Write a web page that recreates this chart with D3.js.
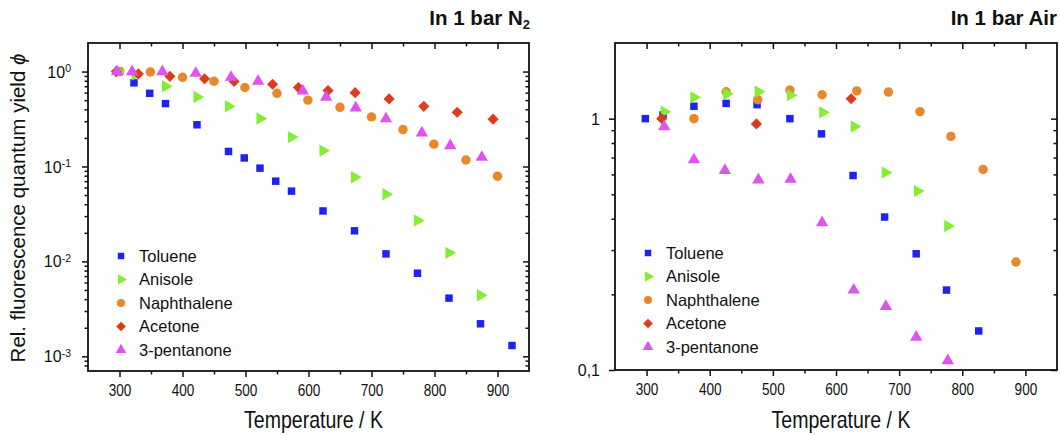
<!DOCTYPE html>
<html>
<head>
<meta charset="utf-8">
<script src="https://cdn.jsdelivr.net/npm/d3@7"></script>
<style>
  body { margin: 0; background: #fff; }
  svg text { font-family: "Liberation Sans", Arial, sans-serif; fill: #111; }
</style>
</head>
<body>
<svg id="chart" width="1060" height="435"></svg>
<script>
// ---------------------------------------------------------------------------
// Data
// ---------------------------------------------------------------------------

const compounds = ["Toluene", "Anisole", "Naphthalene", "Acetone", "3-pentanone"];
const xTicks = [300, 400, 500, 600, 700, 800, 900];
const xMinorTicks = [350, 450, 550, 650, 750, 850];

// In 1 bar N2
const n2TolueneT = [300, 323, 348, 373, 423, 473, 498, 523, 548, 573, 623, 673, 723, 773, 823, 873, 923];
const n2TolueneY = [1.0, 0.76, 0.59, 0.46, 0.275, 0.144, 0.123, 0.096, 0.07, 0.055, 0.034, 0.021, 0.012, 0.0075, 0.0041, 0.0022, 0.0013];
const n2AnisoleT = [298, 325, 373, 423, 473, 523, 573, 623, 673, 723, 773, 823, 873];
const n2AnisoleY = [1.0, 0.93, 0.70, 0.54, 0.43, 0.32, 0.204, 0.147, 0.077, 0.051, 0.027, 0.0123, 0.0044];
const n2NaphT = [300, 349, 400, 450, 499, 550, 599, 650, 700, 750, 799, 850, 900];
const n2NaphY = [1.0, 0.99, 0.87, 0.79, 0.68, 0.59, 0.50, 0.42, 0.333, 0.245, 0.172, 0.117, 0.079];
const n2AcetoneT = [295, 330, 380, 435, 482, 543, 584, 631, 674, 728, 783, 836, 893];
const n2AcetoneY = [1.0, 0.945, 0.89, 0.84, 0.785, 0.735, 0.68, 0.63, 0.60, 0.515, 0.43, 0.373, 0.315];
const n2PentT = [296, 320, 368, 421, 477, 520, 591, 628, 675, 723, 780, 825, 875];
const n2PentY = [1.0, 1.0, 1.0, 0.96, 0.87, 0.79, 0.625, 0.537, 0.415, 0.318, 0.226, 0.166, 0.125];

// In 1 bar Air
const airTolueneT = [298, 326, 375, 426, 475, 527, 577, 627, 677, 727, 775, 826];
const airTolueneY = [1.0, 1.035, 1.12, 1.15, 1.137, 1.0, 0.87, 0.594, 0.406, 0.29, 0.208, 0.143];
const airAnisoleT = [328, 375, 427, 477, 528, 579, 629, 678, 729, 777];
const airAnisoleY = [1.066, 1.216, 1.253, 1.28, 1.24, 1.06, 0.93, 0.61, 0.515, 0.374];
const airNaphT = [375, 426, 476, 527, 578, 633, 683, 733, 782, 833, 885];
const airNaphY = [1.0, 1.28, 1.19, 1.30, 1.245, 1.29, 1.276, 1.066, 0.85, 0.628, 0.269];
const airAcetoneT = [324, 474, 624];
const airAcetoneY = [1.0, 0.953, 1.2];
const airPentT = [328, 375, 424, 477, 528, 578, 628, 679, 727, 777];
const airPentY = [0.93, 0.686, 0.622, 0.571, 0.574, 0.386, 0.208, 0.179, 0.135, 0.109];

// ---------------------------------------------------------------------------
// Styles
// ---------------------------------------------------------------------------

const colors = {
    "Toluene":     "#1f22f5",
    "Anisole":     "#82ee34",
    "Naphthalene": "#e8882c",
    "Acetone":     "#dc3c1c",
    "3-pentanone": "#e052f2"
};
const shapes = {
    "Toluene":     { type: d3.symbolSquare,   size: 56, rot: 0 },
    "Anisole":     { type: d3.symbolTriangle, size: 66, rot: 90 },
    "Naphthalene": { type: d3.symbolCircle,   size: 70, rot: 0 },
    "Acetone":     { type: d3.symbolSquare,   size: 62, rot: 45 },
    "3-pentanone": { type: d3.symbolTriangle, size: 66, rot: 0 }
};
// drawing order (later on top)
const drawOrder = ["Toluene", "Naphthalene", "Anisole", "Acetone", "3-pentanone"];

const svg = d3.select("#chart");

function pts(T, Y) { return T.map((t, i) => ({ t, y: Y[i] })); }

// ---------------------------------------------------------------------------
// Panel
// ---------------------------------------------------------------------------

function drawPanel(opt) {
    const x = d3.scaleLinear().domain([250, 950]).range([opt.left, opt.right]);
    const y = d3.scaleLog().domain(opt.yDomain).range([opt.bottom, opt.top]);
    const g = svg.append("g");

    // minor + major bottom ticks (outward)
    g.append("g").attr("transform", `translate(0,${opt.bottom})`)
        .call(d3.axisBottom(x).tickValues(xMinorTicks).tickSize(3.5).tickFormat(""));
    const xb = g.append("g").attr("transform", `translate(0,${opt.bottom})`)
        .call(d3.axisBottom(x).tickValues(xTicks).tickSize(6).tickPadding(7).tickFormat(d3.format("d")));
    // condensed look of the original tick labels
    xb.selectAll("text").attr("font-size", 17).attr("fill", "#111")
        .attr("transform", "scale(0.8,1)");

    // top mirrored ticks (inward)
    g.append("g").attr("transform", `translate(0,${opt.top})`)
        .call(d3.axisTop(x).tickValues(xMinorTicks).tickSize(-3.5).tickFormat(""));
    g.append("g").attr("transform", `translate(0,${opt.top})`)
        .call(d3.axisTop(x).tickValues(xTicks).tickSize(-6).tickFormat(""));

    // y ticks
    g.append("g").attr("transform", `translate(${opt.left},0)`)
        .call(d3.axisLeft(y).tickValues(opt.yMinor).tickSize(3.5).tickFormat(""));
    const yl = g.append("g").attr("transform", `translate(${opt.left},0)`)
        .call(d3.axisLeft(y).tickValues(opt.yMajor).tickSize(6).tickFormat(""));
    g.append("g").attr("transform", `translate(${opt.right},0)`)
        .call(d3.axisRight(y).tickValues(opt.yMinor).tickSize(-3.5).tickFormat(""));
    g.append("g").attr("transform", `translate(${opt.right},0)`)
        .call(d3.axisRight(y).tickValues(opt.yMajor).tickSize(-6).tickFormat(""));

    g.selectAll(".domain").remove();
    g.selectAll(".tick line").attr("stroke", "#111").attr("stroke-width", 1.5);

    // y tick labels
    yl.selectAll(".tick").each(function (d, i) {
        const t = d3.select(this).append("text")
            .attr("x", -opt.yPad).attr("dy", "0.35em")
            .attr("text-anchor", "end").attr("font-size", 16).attr("fill", "#111");
        opt.yLabel(t, d, i);
    });

    // frame
    g.append("rect")
        .attr("x", opt.left).attr("y", opt.top)
        .attr("width", opt.right - opt.left).attr("height", opt.bottom - opt.top)
        .attr("fill", "none").attr("stroke", "#111").attr("stroke-width", 1.8);

    // markers
    drawOrder.forEach(name => {
        const s = shapes[name];
        const sym = d3.symbol().type(s.type).size(s.size);
        g.append("g").selectAll("path")
            .data(opt.series[name])
            .join("path")
            .attr("d", sym)
            .attr("transform", d => `translate(${x(d.t)},${y(d.y)}) rotate(${s.rot})`)
            .attr("fill", colors[name]);
    });

    // legend
    const lg = g.append("g");
    compounds.forEach((name, i) => {
        const s = shapes[name];
        const ly = opt.legendY + i * 23.5;
        lg.append("path")
            .attr("d", d3.symbol().type(s.type).size(s.size * 0.75)())
            .attr("transform", `translate(${opt.legendX},${ly}) rotate(${s.rot})`)
            .attr("fill", colors[name]);
        lg.append("text")
            .attr("x", opt.legendX + 18).attr("y", ly).attr("dy", "0.35em")
            .attr("font-size", 16.5).text(name);
    });

    // x title
    const cx = (opt.left + opt.right) / 2 + 5;
    g.append("text")
        .attr("transform", `translate(${cx},428) scale(0.85,1)`)
        .attr("text-anchor", "middle").attr("font-size", 23)
        .text("Temperature / K");

    return g;
}

// ---------------------------------------------------------------------------
// Left panel — N2
// ---------------------------------------------------------------------------

const n2Series = {
    "Toluene": pts(n2TolueneT, n2TolueneY),
    "Anisole": pts(n2AnisoleT, n2AnisoleY),
    "Naphthalene": pts(n2NaphT, n2NaphY),
    "Acetone": pts(n2AcetoneT, n2AcetoneY),
    "3-pentanone": pts(n2PentT, n2PentY)
};

const n2Minor = [];
for (let e = -4; e <= 0; e++) for (let k = 2; k <= 9; k++) {
    const v = k * Math.pow(10, e);
    if (v > 0.0007 && v < 2) n2Minor.push(v);
}

drawPanel({
    left: 88, right: 529, top: 43, bottom: 371,
    yDomain: [0.0007, 2],
    yMajor: [1, 0.1, 0.01, 0.001],
    yMinor: n2Minor,
    yPad: 17,
    yLabel: (t, d) => {
        const e = Math.round(Math.log10(d));
        t.append("tspan").text("10");
        t.append("tspan").attr("dy", "-0.55em").attr("font-size", 10.5).text(e);
    },
    series: n2Series,
    legendX: 121, legendY: 256
});

svg.append("text")
    .attr("transform", "translate(25,208) rotate(-90)")
    .attr("text-anchor", "middle").attr("font-size", 20.5)
    .call(t => {
        t.append("tspan").text("Rel. fluorescence quantum yield ");
        t.append("tspan").attr("font-style", "italic").text("ϕ");
    });

svg.append("text")
    .attr("x", 530).attr("y", 25).attr("text-anchor", "end")
    .attr("font-size", 20.5).attr("font-weight", "bold")
    .call(t => {
        t.append("tspan").text("In 1 bar N");
        t.append("tspan").attr("dy", "0.3em").attr("font-size", 13).text("2");
    });

// ---------------------------------------------------------------------------
// Right panel — Air
// ---------------------------------------------------------------------------

const airSeries = {
    "Toluene": pts(airTolueneT, airTolueneY),
    "Anisole": pts(airAnisoleT, airAnisoleY),
    "Naphthalene": pts(airNaphT, airNaphY),
    "Acetone": pts(airAcetoneT, airAcetoneY),
    "3-pentanone": pts(airPentT, airPentY)
};

drawPanel({
    left: 615, right: 1057, top: 43, bottom: 370,
    yDomain: [0.1, 2],
    yMajor: [1, 0.1],
    yMinor: [0.2, 0.3, 0.4, 0.5, 0.6, 0.7, 0.8, 0.9],
    yPad: 15,
    yLabel: (t, d) => { t.text(d === 1 ? "1" : "0,1"); },
    series: airSeries,
    legendX: 648, legendY: 253
});

svg.append("text")
    .attr("x", 1057).attr("y", 25).attr("text-anchor", "end")
    .attr("font-size", 20.5).attr("font-weight", "bold")
    .text("In 1 bar Air");
</script>
</body>
</html>
